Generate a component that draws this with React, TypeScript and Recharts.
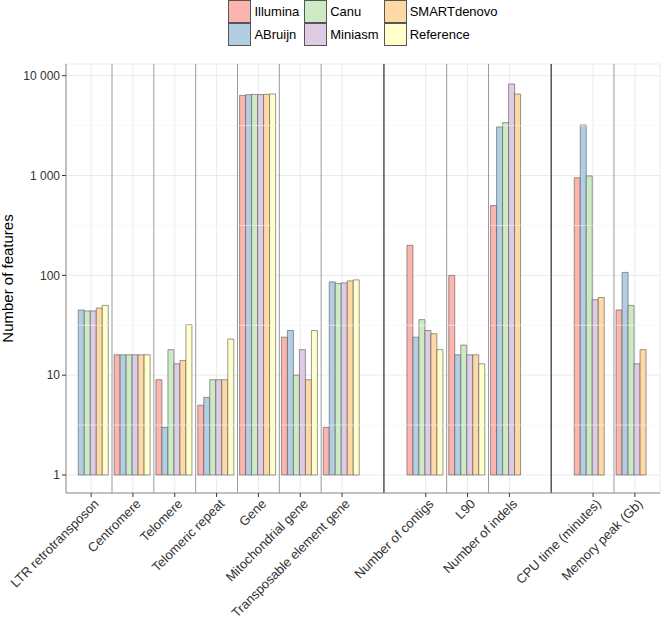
import React from 'react';
import { BarChart, Bar, XAxis, YAxis, CartesianGrid, ReferenceLine, Label } from 'recharts';

// categories (blank entries are the spacer slots between the three blocks)
const categories = [
  'LTR retrotransposon',
  'Centromere',
  'Telomere',
  'Telomeric repeat',
  'Gene',
  'Mitochondrial gene',
  'Transposable element gene',
  ' ',
  'Number of contigs',
  'L90',
  'Number of indels',
  '  ',
  'CPU time (minutes)',
  'Memory peak (Gb)',
];

const illumina = [null, 16, 9, 5, 6350, 24, 3, null, 200, 100, 500, null, 950, 45];
const abruijn = [45, 16, 3, 6, 6450, 28, 86, null, 24, 16, 3070, null, 3210, 107];
const canu = [44, 16, 18, 9, 6500, 10, 83, null, 36, 20, 3390, null, 990, 50];
const miniasm = [44, 16, 13, 9, 6470, 18, 84, null, 28, 16, 8260, null, 57, 13];
const smartdenovo = [47, 16, 14, 9, 6510, 9, 88, null, 26, 16, 6560, null, 60, 18];
const reference = [50, 16, 32, 23, 6560, 28, 90, null, 18, 13, null, null, null, null];

const seriesNames = ['Illumina', 'ABruijn', 'Canu', 'Miniasm', 'SMARTdenovo', 'Reference'];
const seriesValues = [illumina, abruijn, canu, miniasm, smartdenovo, reference];
const seriesColors = ['#FBB4AE', '#B3CDE3', '#CCEBC5', '#DECBE4', '#FED9A6', '#FFFFCC'];

const yTicks = [1, 10, 100, 1000, 10000];
const yMinorTicks = [3.162, 31.62, 316.2, 3162];
const yDomain = [0.66, 13100];

const FONT = '"Liberation Sans", Arial, Helvetica, sans-serif';
const BORDER = '#8C8C8C';

const W = 661;
const H = 623;
const margin = { top: 64, right: 1, bottom: 0, left: 0 };
const yAxisWidth = 66;
const xAxisHeight = 130;
const plotWidth = W - margin.left - margin.right - yAxisWidth;
const plotHeight = H - margin.top - margin.bottom - xAxisHeight;
const slot = plotWidth / (categories.length + 0.2);
const pad = slot * 0.1;

const isBlank = (c: string) => c.trim() === '';

const data = categories.map((name, i) => {
  const row: Record<string, any> = { name };
  seriesNames.forEach((s, j) => {
    row[s] = seriesValues[j][i];
  });
  return row;
});

const fmt = (v: number) => String(v).replace(/\B(?=(\d{3})+(?!\d))/g, ' ');

const XTick = (props: any) => {
  const { x, y, payload } = props;
  if (isBlank(payload.value)) return null;
  return (
    <g transform={`translate(${x},${y})`}>
      <line x1={0} y1={-4} x2={0} y2={0} stroke="#333" strokeWidth={1} />
      <text
        x={0}
        y={0}
        dy="0.72em"
        transform="translate(2,1) rotate(-45)"
        textAnchor="end"
        fontSize={13}
        fill="#333"
        fontFamily={FONT}
      >
        {payload.value}
      </text>
    </g>
  );
};

const LegendBox = () => {
  const cols = [
    [0, 1],
    [2, 3],
    [4, 5],
  ];
  return (
    <div
      style={{
        position: 'absolute',
        top: 0,
        left: margin.left + yAxisWidth,
        width: plotWidth,
        display: 'flex',
        justifyContent: 'center',
        fontFamily: FONT,
        fontSize: 13,
        color: '#000',
      }}
    >
      {cols.map((col, ci) => (
        <div key={ci} style={{ display: 'flex', flexDirection: 'column', marginRight: ci < 2 ? 5 : 0 }}>
          {col.map((k) => (
            <div key={k} style={{ display: 'flex', alignItems: 'center', height: 23 }}>
              <div
                style={{
                  width: 21,
                  height: 21,
                  background: seriesColors[k],
                  border: '1px solid #555',
                }}
              />
              <span style={{ marginLeft: 3 }}>{seriesNames[k]}</span>
            </div>
          ))}
        </div>
      ))}
    </div>
  );
};

export default function App() {
  // thin separators between neighbouring categories, dark ones through the spacer slots
  const lightSeps: string[] = [];
  const darkSeps: string[] = [];
  categories.forEach((c, i) => {
    if (isBlank(c)) darkSeps.push(c);
    else if (i < categories.length - 1 && !isBlank(categories[i + 1])) lightSeps.push(c);
  });

  return (
    <div style={{ position: 'absolute', left: 0, top: 0, width: W, height: H, background: '#fff' }}>
      <LegendBox />
      <BarChart
        width={W}
        height={H}
        data={data}
        margin={margin}
        barCategoryGap="5%"
        barGap={0}
      >
        <CartesianGrid stroke="#EBEBEB" strokeWidth={1} />
        {yMinorTicks.map((v) => (
          <ReferenceLine key={v} y={v} stroke="#F4F4F4" strokeWidth={0.6} />
        ))}
        <XAxis
          dataKey="name"
          interval={0}
          height={xAxisHeight}
          padding={{ left: pad, right: pad }}
          axisLine={{ stroke: BORDER }}
          tickLine={false}
          tickSize={4}
          tickMargin={0}
          tick={<XTick />}
        />
        <XAxis
          xAxisId="top"
          orientation="top"
          dataKey="name"
          height={0}
          padding={{ left: pad, right: pad }}
          axisLine={{ stroke: BORDER }}
          tick={false}
          tickLine={false}
        />
        <YAxis
          scale="log"
          domain={yDomain}
          allowDataOverflow
          ticks={yTicks}
          tickFormatter={fmt}
          width={yAxisWidth}
          axisLine={{ stroke: BORDER }}
          tickSize={4}
          tickMargin={2}
          tickLine={{ stroke: '#333' }}
          tick={{ fontSize: 12, fill: '#333', fontFamily: FONT }}
        >
          <Label
            content={() => (
              <text
                x={0}
                y={0}
                transform={`translate(13,${margin.top + plotHeight / 2}) rotate(-90)`}
                textAnchor="middle"
                fontSize={15}
                fill="#000"
                fontFamily={FONT}
              >
                Number of features
              </text>
            )}
          />
        </YAxis>
        <YAxis
          yAxisId="right"
          orientation="right"
          width={0}
          axisLine={{ stroke: BORDER }}
          tick={false}
          tickLine={false}
        />
        {lightSeps.map((c) => (
          <ReferenceLine key={'l' + c} x={c} position="end" stroke="#9A9A9A" strokeWidth={1} />
        ))}
        {darkSeps.map((c) => (
          <ReferenceLine key={'d' + c.length} x={c} position="middle" stroke="#555" strokeWidth={1.5} />
        ))}
        {seriesNames.map((s, j) => (
          <Bar
            key={s}
            dataKey={(d: any) => (d[s] == null ? null : [1, d[s]])}
            name={s}
            fill={seriesColors[j]}
            stroke="#555"
            strokeWidth={0.6}
            isAnimationActive={false}
          />
        ))}
      </BarChart>
    </div>
  );
}
